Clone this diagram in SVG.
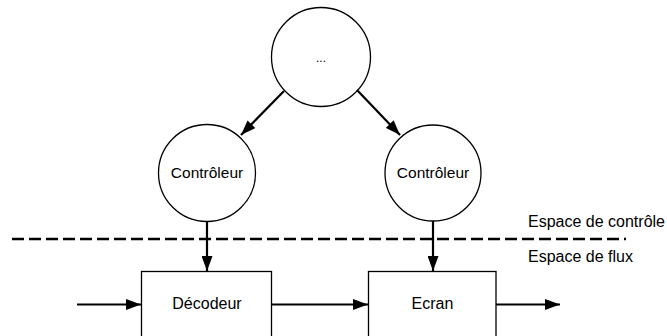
<svg xmlns="http://www.w3.org/2000/svg" width="667" height="336" viewBox="0 0 667 336">
<style>
.node{fill:#fff;stroke:#000;stroke-width:1.3}
.lbl{font-family:"Liberation Sans",Arial,sans-serif;font-size:16px;fill:#000;text-anchor:middle}
.side{font-family:"Liberation Sans",Arial,sans-serif;font-size:16px;fill:#000}
.conn{stroke:#000;stroke-width:2.2;fill:none;marker-end:url(#ah)}
</style>
<defs>
<marker id="ah" markerUnits="userSpaceOnUse" markerWidth="16" markerHeight="11" refX="15" refY="5.5" orient="auto">
<path d="M0,0 L15,5.5 L0,11 Z" fill="#000"/>
</marker>
</defs>
<rect width="667" height="336" fill="#fff"/>
<line x1="12" y1="239" x2="626" y2="239" stroke="#000" stroke-width="2.5" stroke-dasharray="12 5"/>
<text class="side" x="528" y="227">Espace de contrôle</text>
<text class="side" x="528" y="262">Espace de flux</text>
<g id="top">
<circle class="node" cx="321" cy="57" r="49.5"/>
<text class="lbl" x="321" y="62" style="font-size:12px">...</text>
</g>
<g id="ctrl1">
<circle class="node" cx="207" cy="173" r="48.5"/>
<text class="lbl" x="207" y="178" style="font-size:15.5px">Contrôleur</text>
</g>
<g id="ctrl2">
<circle class="node" cx="433" cy="173" r="48"/>
<text class="lbl" x="433" y="178" style="font-size:15.5px">Contrôleur</text>
</g>
<g id="decodeur">
<rect class="node" x="141.5" y="271.5" width="130" height="80"/>
<text class="lbl" x="207" y="309">Décodeur</text>
</g>
<g id="ecran">
<rect class="node" x="368.5" y="271.5" width="127.5" height="80"/>
<text class="lbl" x="432.5" y="309">Ecran</text>
</g>
<g id="connectors">
<line class="conn" x1="284" y1="91" x2="241" y2="135"/>
<line class="conn" x1="357" y1="90" x2="400" y2="135"/>
<line class="conn" x1="207" y1="221.5" x2="207" y2="271"/>
<line class="conn" x1="433" y1="221" x2="433" y2="271"/>
<line class="conn" x1="77" y1="304.5" x2="141" y2="304.5"/>
<line class="conn" x1="272" y1="304.5" x2="368" y2="304.5"/>
<line class="conn" x1="496" y1="304.5" x2="560" y2="304.5"/>
</g>
</svg>
